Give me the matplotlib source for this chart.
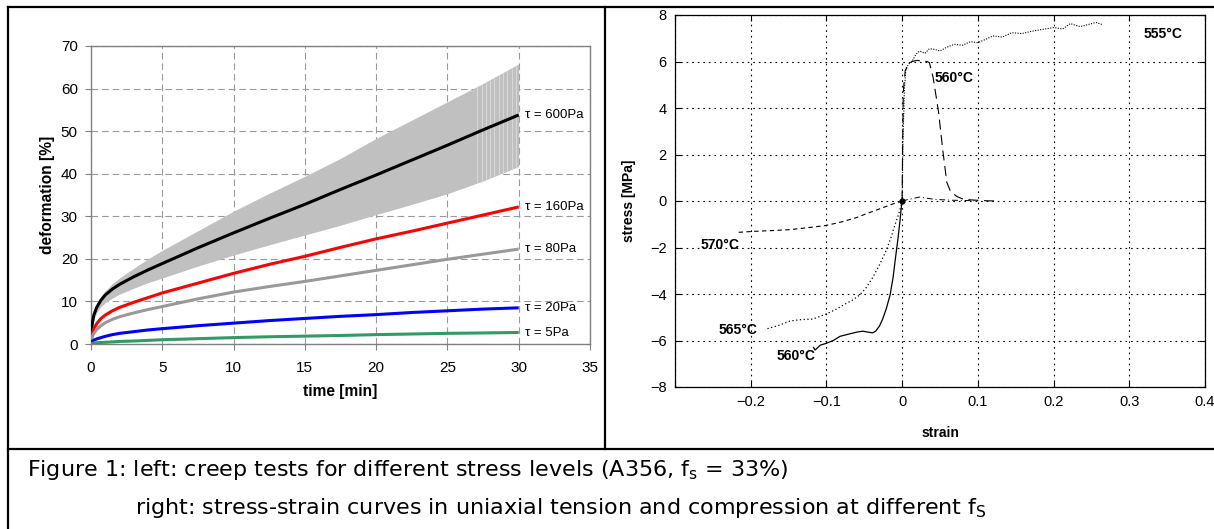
import matplotlib
matplotlib.use('Agg')
import matplotlib.pyplot as plt
from matplotlib.lines import Line2D

plt.rcParams['font.family'] = ['Liberation Sans', 'DejaVu Sans']
plt.rcParams['mathtext.fontset'] = 'custom'
plt.rcParams['mathtext.rm'] = 'DejaVu Sans'

# ── Left panel: creep tests ──────────────────────────────────────────────────
t_min = [0, 0.05, 0.1, 0.2, 0.4, 0.7, 1, 1.5, 2, 3, 4, 5, 7.5, 10, 12.5, 15,
         17.5, 20, 22.5, 25, 27.5, 30]
def_600 = [0, 3.5, 5.0, 6.8, 8.6, 10.3, 11.5, 12.9, 14.0, 15.8, 17.4, 18.9,
           22.6, 26.1, 29.5, 32.8, 36.3, 39.7, 43.2, 46.7, 50.3, 53.8]
band_hi = [0, 4.0, 5.5, 7.5, 9.5, 11.3, 12.5, 14.2, 15.5, 17.8, 20.0, 22.0,
           26.6, 31.2, 35.4, 39.4, 43.6, 48.3, 52.6, 56.9, 61.2, 65.8]
band_lo = [0, 3.0, 4.3, 5.8, 7.4, 8.8, 9.7, 10.8, 11.7, 13.1, 14.4, 15.5,
           18.3, 20.9, 23.3, 25.6, 27.9, 30.4, 32.8, 35.3, 38.3, 41.7]
def_160 = [0, 1.8, 2.6, 3.6, 4.8, 6.0, 6.8, 7.8, 8.6, 9.8, 10.9, 12.0,
           14.3, 16.6, 18.7, 20.6, 22.7, 24.7, 26.5, 28.4, 30.3, 32.2]
def_80 = [0, 1.2, 1.8, 2.5, 3.4, 4.3, 5.0, 5.8, 6.4, 7.3, 8.1, 8.8,
          10.6, 12.2, 13.5, 14.7, 16.0, 17.3, 18.6, 19.9, 21.1, 22.3]
def_20 = [0, 0.5, 0.7, 0.9, 1.2, 1.5, 1.8, 2.2, 2.5, 2.9, 3.3, 3.6,
          4.3, 4.9, 5.5, 6.0, 6.5, 6.9, 7.4, 7.8, 8.2, 8.5]
def_5 = [0, 0.1, 0.15, 0.2, 0.3, 0.35, 0.4, 0.5, 0.6, 0.7, 0.85, 1.0,
         1.25, 1.5, 1.7, 1.85, 2.0, 2.2, 2.35, 2.5, 2.6, 2.7]
creep_series = [
    (def_600, '#000000', '\u03c4 = 600Pa'),
    (def_160, '#ff0000', '\u03c4 = 160Pa'),
    (def_80, '#999999', '\u03c4 = 80Pa'),
    (def_20, '#0000ff', '\u03c4 = 20Pa'),
    (def_5, '#339966', '\u03c4 = 5Pa'),
]
# light stripes in the scatter band near its end
stripe_t = [27.1, 27.4, 27.7, 28.0, 28.3, 28.6, 28.9, 29.2, 29.5, 29.8]

# ── Right panel: stress-strain ───────────────────────────────────────────────
s555_x = [0, 0.001, 0.003, 0.005, 0.009, 0.013, 0.018, 0.023, 0.030, 0.036, 0.043,
          0.050, 0.058, 0.069, 0.080, 0.090, 0.100, 0.110, 0.120, 0.132, 0.145,
          0.158, 0.171, 0.185, 0.200, 0.212, 0.222, 0.235, 0.247, 0.256, 0.265]
s555_y = [0, 2.5, 4.8, 5.7, 5.9, 6.0, 6.3, 6.45, 6.35, 6.55, 6.52, 6.45, 6.6,
          6.74, 6.7, 6.85, 6.81, 6.95, 7.1, 7.05, 7.24, 7.2, 7.3, 7.38, 7.46,
          7.4, 7.63, 7.5, 7.6, 7.68, 7.58]
s560t_x = [0, 0.0005, 0.0015, 0.004, 0.008, 0.013, 0.020, 0.028, 0.033, 0.036,
           0.041, 0.048, 0.054, 0.059, 0.064, 0.072, 0.079, 0.090, 0.100, 0.112, 0.125]
s560t_y = [0, 2.0, 4.7, 5.6, 5.85, 6.0, 6.05, 6.0, 6.0, 5.95, 5.3, 3.85, 2.1,
           0.8, 0.4, 0.2, 0.1, 0.05, 0.03, 0.01, 0.0]
s570t_x = [0, 0.006, 0.013, 0.023, 0.033, 0.043, 0.055, 0.069, 0.085, 0.100]
s570t_y = [0, 0.05, 0.1, 0.17, 0.12, 0.07, 0.05, 0.03, 0.02, 0.01]
s570c_x = [0, -0.010, -0.030, -0.045, -0.060, -0.080, -0.100, -0.125, -0.148,
           -0.170, -0.192, -0.218]
s570c_y = [0, -0.1, -0.34, -0.52, -0.71, -0.90, -1.05, -1.15, -1.23, -1.27,
           -1.30, -1.35]
s565c_x = [0, -0.0013, -0.005, -0.010, -0.015, -0.021, -0.030, -0.039, -0.048,
           -0.056, -0.065, -0.074, -0.087, -0.100, -0.118, -0.133, -0.148,
           -0.163, -0.179]
s565c_y = [0, -0.19, -0.6, -1.08, -1.6, -2.12, -2.75, -3.3, -3.75, -4.04,
           -4.25, -4.41, -4.65, -4.86, -5.08, -5.1, -5.16, -5.35, -5.5]
s560c_x = [0, -0.0013, -0.003, -0.0057, -0.009, -0.012, -0.016, -0.021, -0.026,
           -0.030, -0.035, -0.039, -0.045, -0.052, -0.060, -0.070, -0.082,
           -0.091, -0.100, -0.108, -0.115, -0.117]
s560c_y = [0, -0.34, -0.9, -1.67, -2.5, -3.3, -4.05, -4.64, -5.1, -5.38,
           -5.6, -5.67, -5.64, -5.6, -5.64, -5.72, -5.82, -6.0, -6.12, -6.2,
           -6.41, -6.3]
temp_labels = [
    (0.344, 7.17, '555\u00b0C'),
    (0.069, 5.27, '560\u00b0C'),
    (-0.240, -1.88, '570\u00b0C'),
    (-0.217, -5.56, '565\u00b0C'),
    (-0.140, -6.65, '560\u00b0C'),
]

fig = plt.figure(figsize=(12.14, 5.29), dpi=100)

# ── Left axes ────────────────────────────────────────────────────────────────
GRID_GRAY = '#999999'
axl = fig.add_axes([91 / 1214, 185 / 529, 499 / 1214, 298 / 529])
axl.fill_between(t_min, band_lo, band_hi, color='#c0c0c0', lw=0, zorder=2)
for ts in stripe_t:
    lo = band_lo[-2] + (band_lo[-1] - band_lo[-2]) * (ts - 27.5) / 2.5
    hi = band_hi[-2] + (band_hi[-1] - band_hi[-2]) * (ts - 27.5) / 2.5
    axl.vlines(ts, lo, hi, color='#dcdcdc', lw=0.6, zorder=2.5)
for ys, col, lab in creep_series:
    axl.plot(t_min, ys, color=col, lw=2.2, zorder=3, solid_capstyle='butt')
    axl.text(30.45, ys[-1], lab, fontsize=9.5, va='center', ha='left', zorder=4)
axl.set_xlim(0, 35)
axl.set_ylim(0, 70)
axl.set_xticks(range(0, 36, 5))
axl.set_yticks(range(0, 71, 10))
axl.grid(True, color=GRID_GRAY, linestyle=(0, (6, 3.5)), lw=0.8, zorder=1)
for sp in axl.spines.values():
    sp.set_color('#808080')
    sp.set_linewidth(1.0)
axl.tick_params(direction='out', length=4, color='#808080', labelsize=11)
axl.tick_params(axis='x', pad=8.5)
axl.tick_params(axis='y', pad=5.5)
axl.set_xlabel('time [min]', fontsize=11.2, fontweight='bold', labelpad=6)
axl.set_ylabel('deformation [%]', fontsize=11.2, fontweight='bold', labelpad=4)

# ── Right axes ───────────────────────────────────────────────────────────────
axr = fig.add_axes([675 / 1214, 142 / 529, 530 / 1214, 372 / 529])
axr.plot(s555_x, s555_y, color='k', lw=0.8, linestyle=(0, (1, 1.3)))
axr.plot(s560t_x, s560t_y, color='k', lw=0.8, linestyle=(0, (9, 5)))
axr.plot(s570t_x, s570t_y, color='k', lw=0.7, linestyle=(0, (6, 3, 1, 3)))
axr.plot(s570c_x, s570c_y, color='k', lw=0.8, linestyle=(0, (4, 3)))
axr.plot(s565c_x, s565c_y, color='k', lw=0.9, linestyle=(0, (1, 2)))
axr.plot(s560c_x, s560c_y, color='k', lw=0.9)
axr.plot([s560c_x[0]], [s560c_y[0]], 'o', color='k', ms=3.5)
for lx, ly, txt in temp_labels:
    axr.text(lx, ly, txt, fontsize=10, fontweight='bold', ha='center',
             va='center', family=['Liberation Sans Narrow', 'Liberation Sans'])
axr.set_xlim(-0.3, 0.4)
axr.set_ylim(-8, 8)
axr.set_xticks([-0.3, -0.2, -0.1, 0, 0.1, 0.2, 0.3, 0.4])
axr.set_xticklabels(['', '\u22120.2', '\u22120.1', '0', '0.1', '0.2', '0.3', '0.4'])
axr.set_yticks(range(-8, 9, 2))
axr.grid(True, color='k', linestyle=(0, (1.5, 3.5)), lw=0.8)
for sp in axr.spines.values():
    sp.set_color('k')
    sp.set_linewidth(0.9)
axr.tick_params(direction='in', length=4, labelsize=10.5, pad=6,
                top=True, right=True)
axr.set_xlabel('strain', fontsize=10, fontweight='bold', labelpad=12)
axr.set_ylabel('stress [MPa]', fontsize=10, fontweight='bold', labelpad=10)

# ── Frame and caption ────────────────────────────────────────────────────────
frame_lines = [
    ([8 / 1214, 1.0], [1 - 7 / 529, 1 - 7 / 529]),
    ([8 / 1214, 1.0], [80 / 529, 80 / 529]),
    ([8 / 1214, 8 / 1214], [0.0, 1 - 7 / 529]),
    ([605 / 1214, 605 / 1214], [80 / 529, 1 - 7 / 529]),
]
for xs, ys in frame_lines:
    fig.add_artist(Line2D(xs, ys, transform=fig.transFigure, color='k', lw=1.6))

cap_font = ['DejaVu Sans']
fig.text(27 / 1214, 1 - 470 / 529,
         r'Figure 1: left: creep tests for different stress levels (A356, f$_\mathrm{s}$ = 33%)',
         fontsize=16, va='center', ha='left', family=cap_font)
fig.text(135 / 1214, 1 - 508 / 529,
         r'right: stress-strain curves in uniaxial tension and compression at different f$_\mathrm{S}$',
         fontsize=16, va='center', ha='left', family=cap_font)

fig.savefig('out.png', dpi=100)
